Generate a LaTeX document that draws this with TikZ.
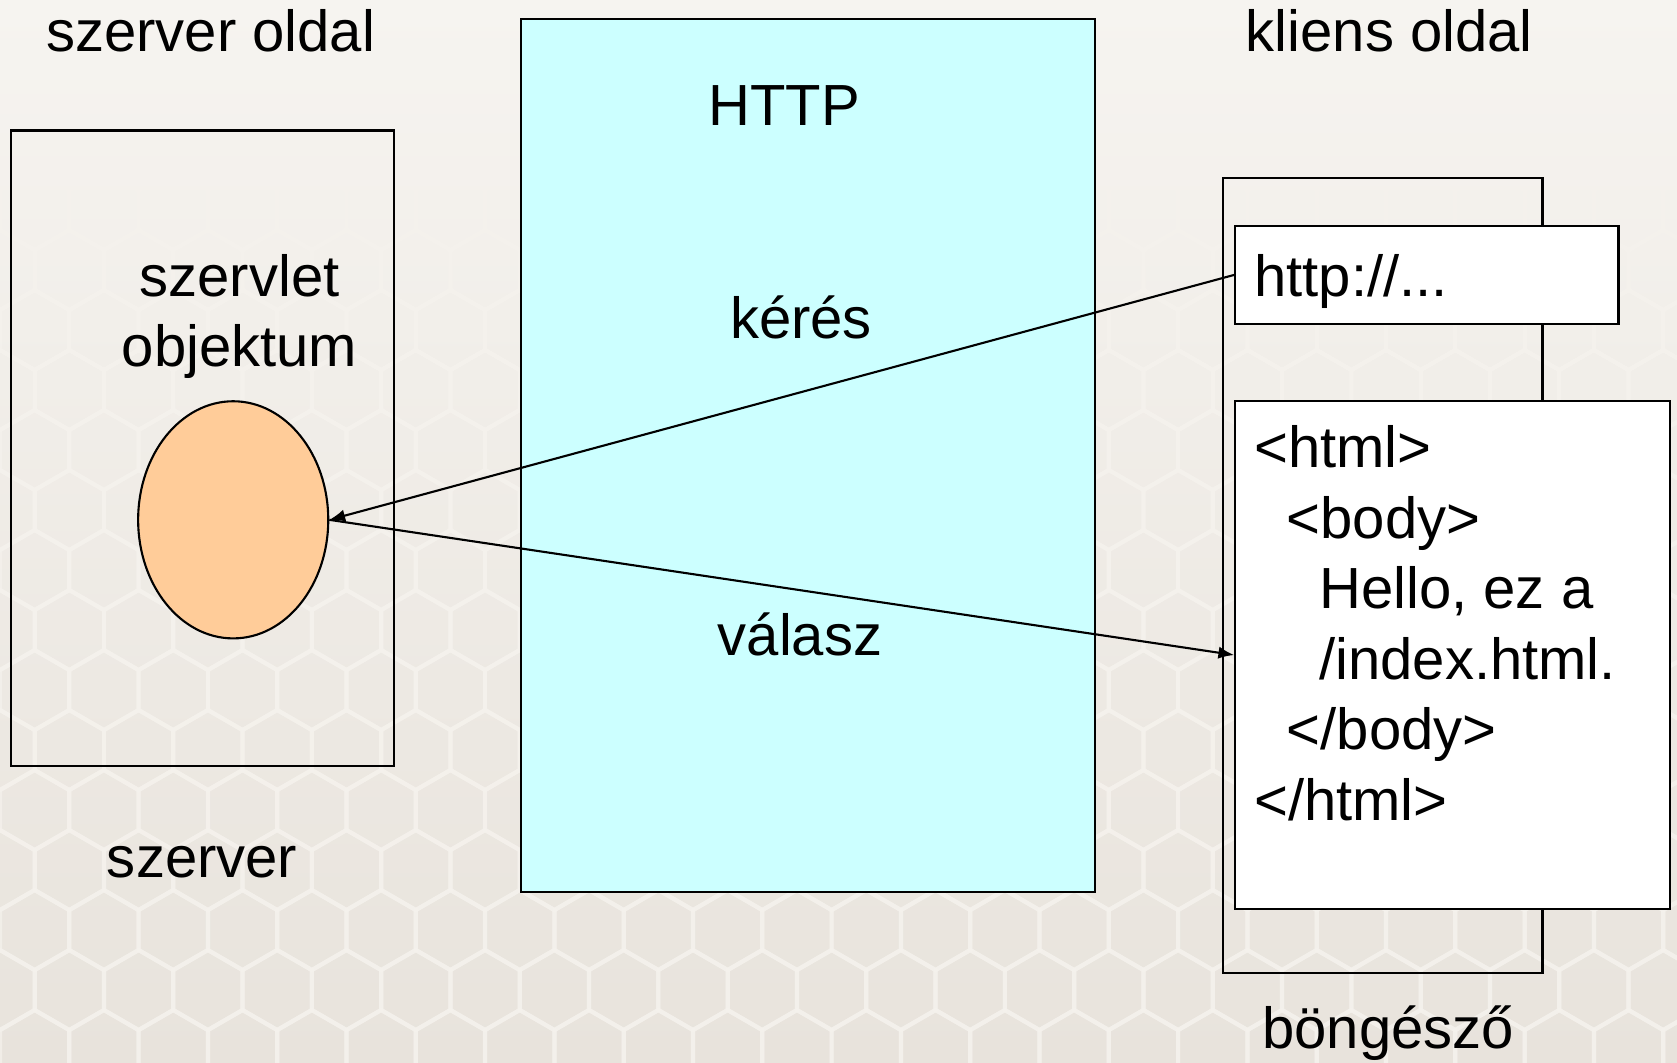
\documentclass[tikz,border=0pt]{standalone}
\usepackage{fontspec}
\setmainfont{Liberation Sans}
\usetikzlibrary{arrows.meta,shapes.geometric}
\definecolor{httpblue}{HTML}{CCFFFF}
\definecolor{objorange}{HTML}{FFCC99}
\definecolor{paper}{RGB}{232,227,220}
\definecolor{paperlight}{RGB}{246,244,240}
\definecolor{hexline}{RGB}{245,242,237}
\begin{document}
\begin{tikzpicture} [
                x=0.01cm, y=-0.01cm,
                box/.style={draw,line width=0.6pt,inner sep=0pt},
                word/.style={font=\fontsize{16.5}{19.8}\selectfont,inner sep=0pt,anchor=base},
                code line/.style={word,anchor=base west},
                msg/.style={draw,line width=0.6pt,-{Latex[length=4.5pt,width=3.5pt]}},
            ]
            % background
            \shade[top color=paperlight, bottom color=paper] (0,0) rectangle (1677,1062);
            \useasboundingbox (0,0) rectangle (1677,1062);
            \begin{scope}[hexline, line width=1.2pt, opacity=0.7]
                \clip (0,150) rectangle (1677,1062);
                \foreach \row in {0,...,16}
                    \foreach \col in {0,...,25} {
                        \pgfmathsetmacro{\hx}{\col*69.3+mod(\row,2)*34.65}
                        \pgfmathsetmacro{\hy}{150+\row*60}
                        \draw (\hx,\hy) +(30:40) -- +(90:40) -- +(150:40) -- +(210:40) -- +(270:40) -- +(330:40) -- cycle;
                    }
            \end{scope}
            % boxes
            \node[box, minimum width=3.83cm, minimum height=6.35cm] (server) at (202.2,448.2) {};
            \node[box, fill=httpblue, minimum width=5.74cm, minimum height=8.73cm] (http) at (808,455.6) {};
            \node[box, minimum width=3.19cm, minimum height=7.94cm] (browser) at (1382.9,575.4) {};
            \node[box, fill=white, minimum width=3.83cm, minimum height=0.98cm] (url) at (1426.8,274.9) {};
            \node[box, fill=white, minimum width=4.34cm, minimum height=5.08cm] (page) at (1452.4,655) {};
            \node[box, ellipse, fill=objorange, minimum width=1.9cm, minimum height=2.37cm] (servlet) at (233.2,519.8) {};
            % labels
            \foreach \pos/\name/\txt in {
                    {(210.7,51.3)/serverside/szerver oldal}, {(1389.3,51.3)/clientside/kliens oldal},
                    {(784,125.1)/protocol/HTTP}, {(801,338)/request/kérés}, {(800,655.6)/response/válasz},
                    {(239.6,296.3)/servletA/szervlet}, {(239.6,366.8)/servletB/objektum},
                    {(202.1,877)/servername/szerver}, {(1388.2,1048)/browsername/böngésző}}
                \node[word] (\name) at \pos {\txt};
            \node[code line] (address) at (1253.5,296.3) {http://...};
            \foreach \i/\ind/\txt in {
                    0/0/{<html>}, 1/1/{<body>}, 2/2/{Hello, ez a}, 3/2/{/index.html.}, 4/1/{</body>}, 5/0/{</html>}}
                \node[code line] (line\i) at (1253.5+\ind*32.5,467.4+\i*70.6) {\txt};
            % messages
            \path[msg] (url.west) -- (servlet.east);
            \path[msg] (servlet.east) -- (page.west);
        \end{tikzpicture}
\end{document}
